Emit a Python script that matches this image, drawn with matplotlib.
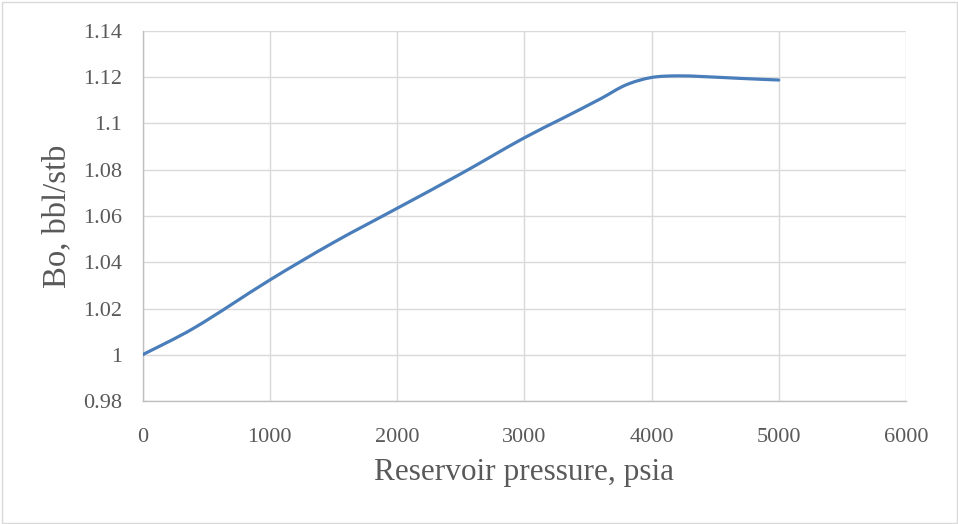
import matplotlib
matplotlib.use("Agg")
import matplotlib.pyplot as plt
from matplotlib.path import Path
from matplotlib.patches import PathPatch, Rectangle
from matplotlib.ticker import FuncFormatter
import numpy as np

# Data
pressure = [0, 400, 1000, 1500, 2000, 2500, 3000, 3300, 3600, 3800, 4000, 4200, 4400, 4700, 5000]
bo = [1.000, 1.0114, 1.0323, 1.0485, 1.0633, 1.0782, 1.0938, 1.1022, 1.1107, 1.1167, 1.1199,
      1.1206, 1.1203, 1.1195, 1.1188]

x_ticks = [0, 1000, 2000, 3000, 4000, 5000, 6000]
y_ticks = [0.98, 1.00, 1.02, 1.04, 1.06, 1.08, 1.10, 1.12, 1.14]

plt.rcParams['font.family'] = ['Liberation Serif', 'DejaVu Serif']

fig = plt.figure(figsize=(9.58, 5.24), dpi=100)
ax = fig.add_axes([142.5 / 958, (524 - 401) / 524, (906 - 142.5) / 958, (401 - 31) / 524])

# Excel-style smoothed line (cubic Bezier through the points)
xs = np.array(pressure, dtype=float)
ys = np.array(bo, dtype=float)
n = len(xs)
verts = [(xs[0], ys[0])]
codes = [Path.MOVETO]
t = 1.0 / 6.0
for i in range(n - 1):
    p0 = (xs[i - 1], ys[i - 1]) if i > 0 else (xs[i], ys[i])
    p1 = (xs[i], ys[i])
    p2 = (xs[i + 1], ys[i + 1])
    p3 = (xs[i + 2], ys[i + 2]) if i + 2 < n else (xs[i + 1], ys[i + 1])
    # scale tangents by local spacing to avoid overshoot on uneven spacing
    h = p2[0] - p1[0]
    d1 = (p2[0] - p0[0]) if p2[0] != p0[0] else 1.0
    d2 = (p3[0] - p1[0]) if p3[0] != p1[0] else 1.0
    s1 = 2 * h / d1 if i > 0 else 1.0
    s2 = 2 * h / d2 if i + 2 < n else 1.0
    c1 = (p1[0] + (p2[0] - p0[0]) * t * s1, p1[1] + (p2[1] - p0[1]) * t * s1)
    c2 = (p2[0] - (p3[0] - p1[0]) * t * s2, p2[1] - (p3[1] - p1[1]) * t * s2)
    verts += [c1, c2, p2]
    codes += [Path.CURVE4] * 3
path = Path(verts, codes)
ax.add_patch(PathPatch(path, facecolor='none', edgecolor='#4A7EBB', lw=2.3,
                       capstyle='round', joinstyle='round', zorder=3))

ax.set_xlim(0, 6000)
ax.set_ylim(0.98, 1.14)
ax.set_xticks(x_ticks)
ax.set_yticks(y_ticks)


def fmt_y(v, pos):
    return ('%.2f' % v).rstrip('0').rstrip('.')


ax.yaxis.set_major_formatter(FuncFormatter(fmt_y))
ax.xaxis.set_major_formatter(FuncFormatter(lambda v, p: '%d' % v))

ax.grid(True, color='#D9D9D9', lw=1.0)
ax.set_axisbelow(True)
for s in ['top', 'right']:
    ax.spines[s].set_visible(False)
for s in ['left', 'bottom']:
    ax.spines[s].set_color('#BFBFBF')
    ax.spines[s].set_linewidth(1.0)
ax.tick_params(length=0, labelsize=16, colors='#595959')
ax.tick_params(axis='x', pad=19.5)
ax.tick_params(axis='y', pad=14.5)

ax.set_xlabel('Reservoir pressure, psia', fontsize=22.5, color='#595959', labelpad=8)
ax.set_ylabel('Bo, bbl/stb', fontsize=23.5, color='#595959', labelpad=8)

fig.patches.append(Rectangle((1.5 / 958, 1.5 / 524), 955 / 958, 521 / 524,
                             transform=fig.transFigure, fill=False,
                             edgecolor='#D9D9D9', lw=1.0))

fig.savefig('out.png', dpi=100)
